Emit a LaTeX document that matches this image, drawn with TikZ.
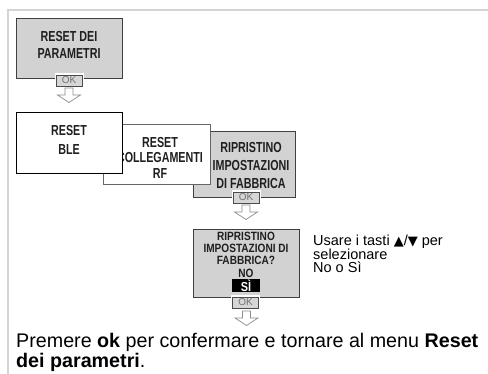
\documentclass[tikz,border=0pt]{standalone}
\usepackage{fontspec}
\setmainfont{Liberation Sans}
\newfontfamily\cond[FakeStretch=0.74]{Liberation Sans}
\newfontfamily\condb[FakeStretch=0.84]{Liberation Sans}
\newfontfamily\symfont{DejaVu Sans}
\usetikzlibrary{calc}
\definecolor{boxgray}{HTML}{D2D2D2}
\definecolor{okgray}{HTML}{D6D6D6}
\definecolor{framegray}{HTML}{D4D4D4}
\definecolor{arrgray}{HTML}{8C8C8C}
\tikzset{
  box/.style={draw=black!75, line width=0.9pt, inner sep=0pt},
  graybox/.style={box, fill=boxgray},
  whitebox/.style={box, fill=white},
  boxtxt/.style={font=\cond\bfseries\fontsize{14.5}{17}\selectfont, align=center, text=black!88, inner sep=0pt},
  okbtn/.style={draw=black!70, line width=0.6pt, fill=okgray, minimum width=26pt, minimum height=11pt, inner sep=0pt,
     font=\fontsize{10}{10}\selectfont, text=black!55, preaction={draw=white, line width=3pt}},
  harrow/.style={draw=arrgray, fill=white, line width=0.7pt, line join=miter},
  bodytxt/.style={font=\fontsize{19.7}{20}\selectfont, align=left, inner sep=0pt, anchor=north west}
}
\newcommand\holarrow[1]{\draw[harrow] ($(#1)+(-4,0)$) -- ++(8,0) -- ++(0,7) -- ++(7.5,0) -- ++(-11.5,7.5) -- ++(-11.5,-7.5) -- ++(7.5,0) -- cycle;}
\begin{document}
\begin{tikzpicture}[x=1pt,y=-1pt]
\useasboundingbox (0,0) rectangle (488,374);
% frame
\draw[framegray, line width=1.3pt] (8,374) -- (8,10) -- (488,10);
% box 1
\node[graybox, minimum width=106pt, minimum height=60pt] (b1) at (69,48) {};
\node[boxtxt] (t1) at (69,44.5) {RESET DEI\\PARAMETRI};
\node[okbtn] (ok1) at (69,80.5) {OK};
\coordinate (a1) at (69,88);
\holarrow{a1}
% box 4 (back)
\node[graybox, minimum width=102pt, minimum height=66pt] (b4) at (244,164) {};
\begin{scope}
\clip (193,131) rectangle (295,189);
\node[boxtxt, font=\cond\bfseries\fontsize{14.5}{18}\selectfont] (t4) at (251,165.5) {RIPRISTINO\\IMPOSTAZIONI\\DI FABBRICA};
\end{scope}
\node[okbtn] (ok4) at (246,197.5) {OK};
% box 3
\node[whitebox, draw=black!60, minimum width=107pt, minimum height=60pt] (b3) at (156.5,154) {};
\node[boxtxt, font=\cond\bfseries\fontsize{14.5}{15.5}\selectfont] (t3) at (160,157.5) {RESET\\COLLEGAMENTI\\RF};
% box 2
\node[whitebox, draw=black, minimum width=106pt, minimum height=61pt] (b2) at (69,142.5) {};
\node[boxtxt, font=\cond\bfseries\fontsize{14.5}{19}\selectfont] (t2) at (69,139.5) {RESET\\BLE};
\coordinate (a2) at (246,205);
\holarrow{a2}
% box 5
\node[graybox, minimum width=106pt, minimum height=68pt] (b5) at (246,263) {};
\node[boxtxt, font=\condb\bfseries\fontsize{12}{12.3}\selectfont] (t5) at (246,254.5) {RIPRISTINO\\IMPOSTAZIONI DI\\FABBRICA?\\NO};
\node[fill=black, text=white, minimum width=28pt, minimum height=13pt, inner sep=0pt, font=\condb\bfseries\fontsize{13}{13}\selectfont] (si) at (246,285.5) {SÌ};
\node[okbtn] (ok5) at (245.5,302.5) {OK};
\coordinate (a3) at (246.5,311);
\holarrow{a3}
% side text
\node[font=\fontsize{14.5}{13.8}\selectfont, align=left, anchor=north west, inner sep=0pt] (side) at (313,234.5) {Usare i tasti {\symfont\fontsize{13}{13}\selectfont ▲}/{\symfont\fontsize{13}{13}\selectfont ▼} per\\selezionare\\No o Sì};
% bottom text
\node[bodytxt] (bottom) at (16,333) {Premere \textbf{ok} per confermare e tornare al menu \textbf{Reset}\\\textbf{dei parametri}.};
\end{tikzpicture}
\end{document}
